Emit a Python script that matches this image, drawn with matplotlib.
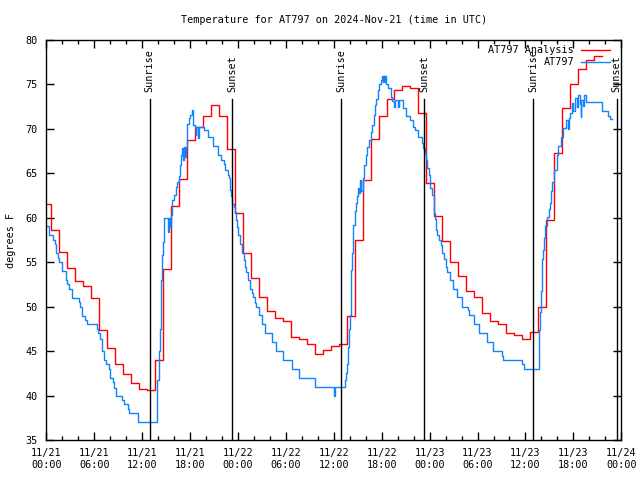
import numpy as np
import matplotlib
matplotlib.use("Agg")
import matplotlib.pyplot as plt
import matplotlib.dates as mdates
import matplotlib.transforms as mtransforms

# ---------------- data ----------------
start = np.datetime64("2024-11-21T00:00")

# Analysis (hourly steps; step edges in hours since start)
analysis_edges = [0.0] + [i + 0.6 for i in range(70)]
analysis_temps = [61.6, 58.6, 56.2, 54.4, 52.9, 52.3, 51.0, 47.4, 45.4, 43.5,
                  42.4, 41.4, 40.7, 40.6, 44.0, 54.2, 61.3, 64.4, 68.75, 70.2,
                  71.4, 72.7, 71.4, 67.7, 60.5, 56.0, 53.2, 51.05, 49.5, 48.7,
                  48.35, 46.6, 46.4, 45.8, 44.7, 45.1, 45.6, 45.8, 49.0, 57.5,
                  64.2, 68.9, 71.4, 73.4, 74.4, 74.8, 74.6, 71.75, 63.9, 60.2,
                  57.35, 55.0, 53.4, 51.8, 51.1, 49.3, 48.35, 48.1, 47.0, 46.8,
                  46.4, 47.2, 50.0, 59.75, 67.25, 72.3, 75.1, 76.7, 77.7, 78.2]

# Observations (step changes: hours since start, temperature)
obs_hours = [0.0, 0.38, 0.8, 1.09, 1.21, 1.5, 1.63, 1.93, 2.43, 2.55, 2.8, 3.18,
             4.1, 4.26, 4.51, 4.85, 5.05, 6.3, 6.5, 6.72, 6.93, 7.0, 7.22, 7.47,
             7.9, 8.0, 8.3, 8.5, 8.77, 9.48, 9.73, 10.27, 10.4, 11.5, 13.8, 13.9,
             14.05, 14.2, 14.3, 14.4, 14.5, 14.6, 14.7, 14.8, 15.2, 15.35, 15.5,
             15.6, 15.8, 16.0, 16.25, 16.4, 16.65, 16.8, 16.9, 17.0, 17.1, 17.2,
             17.35, 17.45, 17.65, 17.85, 18.0, 18.2, 18.4, 18.6, 18.7, 18.8, 19.0,
             19.1, 19.7, 20.3, 20.9, 21.5, 21.9, 22.2, 22.4, 22.7, 22.85, 22.95,
             23.05, 23.15, 23.3, 23.5, 23.6, 23.75, 23.9, 24.0, 24.3, 24.5, 24.7,
             24.85, 25.05, 25.25, 25.55, 25.8, 25.9, 26.1, 26.3, 26.6, 27.0, 27.4,
             28.2, 28.8, 29.6, 30.8, 31.7, 33.7, 36.0, 36.1, 37.4, 37.5, 37.6,
             37.8, 37.9, 38.05, 38.15, 38.25, 38.35, 38.45, 38.6, 38.75, 38.85,
             39.0, 39.2, 39.3, 39.45, 39.6, 39.8, 40.0, 40.2, 40.4, 40.6, 40.8,
             41.0, 41.1, 41.3, 41.5, 41.7, 41.9, 42.0, 42.1, 42.15, 42.25, 42.3,
             42.4, 42.45, 42.55, 42.75, 43.1, 43.3, 43.5, 43.7, 44.0, 44.15, 44.7,
             45.1, 45.6, 45.9, 46.2, 46.6, 47.0, 47.2, 47.4, 47.6, 47.7, 47.9,
             48.0, 48.1, 48.3, 48.5, 48.6, 48.7, 48.8, 48.9, 49.2, 49.4, 49.6,
             49.8, 50.0, 50.2, 50.5, 50.9, 51.4, 52.1, 52.8, 52.9, 53.5, 54.2,
             55.2, 55.9, 57.1, 57.2, 59.6, 59.8, 61.65, 61.75, 61.85, 61.95, 62.05,
             62.1, 62.2, 62.3, 62.45, 62.7, 62.9, 63.05, 63.2, 63.35, 63.6, 63.9,
             64.1, 64.4, 64.7, 65.1, 65.3, 65.4, 65.6, 65.8, 66.0, 66.2, 66.4,
             66.6, 66.8, 66.9, 67.0, 67.2, 67.35, 67.6, 69.6, 70.3, 70.6, 70.8]
obs_temps = [59.1, 58.1, 57.5, 57.0, 56.0, 55.5, 55.0, 54.0, 53.0, 52.5, 52.0, 51.0,
             50.5, 50.0, 49.0, 48.5, 48.0, 47.5, 47.0, 46.4, 45.9, 45.0, 44.0, 43.6,
             43.0, 42.0, 41.5, 40.9, 40.0, 39.5, 39.0, 38.5, 38.0, 37.0, 39.0, 41.75,
             45.0, 47.5, 51.5, 53.0, 55.8, 57.3, 58.6, 60.0, 58.4, 60.0, 59.0,
             60.3, 62.0, 62.6, 63.5, 64.0, 64.75, 65.9, 67.1, 67.8, 66.5, 68.0,
             66.8, 68.0, 70.6, 71.2, 71.6, 72.1, 70.4, 70.25, 69.3, 70.2, 69.0,
             70.2, 69.9, 69.1, 68.1, 67.1, 66.5, 66.1, 65.4, 64.8, 64.5, 63.9,
             63.1, 62.4, 61.6, 61.25, 60.6, 59.8, 59.0, 58.06, 57.0, 56.0, 55.25,
             54.5, 53.9, 53.0, 51.95, 51.5, 51.05, 50.45, 50.0, 49.06, 48.0, 47.0,
             46.0, 45.0, 44.0, 43.0, 42.0, 41.0, 40.0, 41.0, 41.75, 42.5, 43.5,
             45.5, 47.5, 49.1, 54.1, 56.0, 57.5, 59.2, 60.75, 61.7, 62.4,
             63.4, 62.8, 64.25, 63.0, 64.5, 65.9, 67.1, 68.0, 68.75, 69.7, 70.4,
             71.6, 72.7, 73.4, 74.4, 75.0, 75.5, 76.0, 75.3, 76.0, 75.3, 76.0,
             75.3, 76.0, 75.0, 74.6, 73.6, 73.1, 72.5, 73.2, 72.5, 73.2, 72.3,
             71.4, 71.0, 70.25, 69.9, 69.1, 68.4, 67.8, 67.25, 66.5, 65.6, 64.85,
             64.1, 63.3, 62.6, 61.8, 60.5, 59.9, 58.6, 58.1, 57.5, 56.9, 56.0,
             55.4, 54.5, 53.9, 53.0, 52.0, 51.05, 50.0, 49.6, 49.06, 48.0, 47.0,
             46.0, 45.0, 44.5, 44.0, 43.5, 43.0, 45.0, 47.4, 49.4, 51.8, 53.3,
             55.4, 56.4, 57.7, 59.1, 60.1, 61.0, 61.7, 63.0, 64.0, 65.4, 67.1,
             68.1, 69.1, 70.1, 71.0, 70.0, 71.2, 71.75, 72.9, 72.0, 73.5, 72.5,
             73.8, 72.8, 71.3, 73.3, 72.6, 73.8, 73.06, 72.05, 71.5, 71.1, 71.1]

sunrise_hours = [12.93, 36.94, 60.97]
sunset_hours = [23.3, 47.35, 71.4]

title = "Temperature for AT797 on 2024-Nov-21 (time in UTC)"
series_labels = ["AT797 Analysis", "AT797"]
series_colors = ["#ff0000", "#1084ff"]


def to_time(hours):
    return start + (np.asarray(hours) * 3600).astype("timedelta64[s]")


# ---------------- plot ----------------
FONT = "DejaVu Sans Mono"
FS = 7.3
plt.rcParams["font.family"] = FONT

fig = plt.figure(figsize=(6.4, 4.8), dpi=100)
ax = fig.add_axes([46.3 / 640, 40 / 480, 575 / 640, 400 / 480])

an_y = analysis_temps + [analysis_temps[-1]]
ax.step(to_time(analysis_edges), an_y, where="post", color=series_colors[0], lw=1.0)
ax.step(to_time(obs_hours), obs_temps, where="post", color=series_colors[1], lw=1.0)

trans = mtransforms.blended_transform_factory(ax.transData, ax.transAxes)
for hrs, lab in [(sunrise_hours, "Sunrise"), (sunset_hours, "Sunset")]:
    for h in hrs:
        t = mdates.date2num(to_time(h))
        ax.plot([t, t], [0, 0.8525], color="black", lw=1.0, transform=trans)
        ax.text(t, 0.87, lab, rotation=90, ha="center", va="bottom",
                fontsize=FS, transform=trans)

ax.set_xlim(mdates.date2num(start), mdates.date2num(start + np.timedelta64(72, "h")))
ax.set_ylim(35, 80)
ax.set_yticks(np.arange(35, 81, 5))
ax.xaxis.set_major_locator(mdates.HourLocator(byhour=range(0, 24, 6)))
ax.xaxis.set_minor_locator(mdates.HourLocator(byhour=range(0, 24, 2)))
ax.xaxis.set_major_formatter(mdates.DateFormatter("%m/%d\n%H:%M"))
ax.tick_params(which="both", direction="in", top=True, right=True, labelsize=FS, width=1)
ax.tick_params(which="major", length=6, pad=6)
ax.tick_params(which="minor", length=3)
ax.tick_params(axis="y", which="minor", left=False, right=False)
for sp in ax.spines.values():
    sp.set_linewidth(1.0)

ax.set_ylabel("degrees F", fontsize=FS)
ax.yaxis.set_label_coords(-0.053, 0.5)
ax.set_title(title, fontsize=FS, pad=12)

# legend (gnuplot style: right-aligned text, sample to the right)
for k, (lab, col) in enumerate(zip(series_labels, series_colors)):
    yy = 0.976 - k * 0.031
    ax.text(0.918, yy, lab, ha="right", va="center", fontsize=FS, transform=ax.transAxes)
    ax.plot([0.930, 0.980], [yy, yy], color=col, lw=1.0, transform=ax.transAxes)

fig.savefig("out.png", dpi=100)
